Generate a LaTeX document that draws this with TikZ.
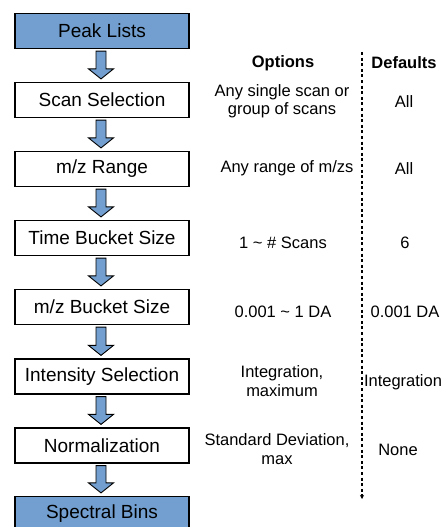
\documentclass[tikz,border=0pt]{standalone}
\usepackage{fontspec}
\setmainfont{Liberation Sans}
\usetikzlibrary{calc,arrows.meta}
\definecolor{stepblue}{HTML}{729FCF}
\tikzset{
  stepbox/.style={draw=black, line width=1.2pt, fill=white, minimum width=174pt,
    minimum height=35pt, inner sep=0pt, font=\fontsize{19}{22}\selectfont},
  endbox/.style={stepbox, fill=stepblue},
  flowarrow/.style={draw=black, line width=0.9pt, fill=stepblue, line join=miter},
  opt/.style={align=center, inner sep=0pt, font=\fontsize{16.5}{18.5}\selectfont},
  head/.style={opt, font=\fontsize{16.5}{18.5}\selectfont\bfseries},
}
\newcommand{\flowstep}[2]{%
  \path[flowarrow] ($(#1.south)+(-6,2)$) -- ($(#2.north)+(-6,-13)$)
    -- ($(#2.north)+(-13.5,-13)$) -- ($(#2.north)+(-1,-3)$)
    -- ($(#2.north)+(11.5,-13)$) -- ($(#2.north)+(4,-13)$)
    -- ($(#1.south)+(4,2)$) -- cycle;}
\begin{document}
\begin{tikzpicture}[x=1pt,y=-1pt]
\useasboundingbox (0,0) rectangle (444,527);
% processing chain
\node[endbox]  (peak)   at (102,31)  {Peak Lists};
\node[stepbox] (scan)   at (102,100) {Scan Selection};
\node[stepbox] (range)  at (102,169) {m/z Range};
\node[stepbox] (time)   at (102,238) {Time Bucket Size};
\node[stepbox] (mzb)    at (102,307) {m/z Bucket Size};
\node[stepbox] (inten)  at (102,376.5) {Intensity Selection};
\node[stepbox] (norm)   at (102,445.5) {Normalization};
\node[endbox]  (bins)   at (102,514) {Spectral Bins};
\flowstep{peak}{scan}
\flowstep{scan}{range}
\flowstep{range}{time}
\flowstep{time}{mzb}
\flowstep{mzb}{inten}
\flowstep{inten}{norm}
\flowstep{norm}{bins}
% column headings
\node[head] (hopt) at (283,63) {Options};
\node[head] (hdef) at (404,63) {Defaults};
% separator
\coordinate (dtop) at (362,52);
\coordinate (dbot) at (362,499);
\draw[line width=1.4pt, dash pattern=on 3pt off 2.6pt, -{Stealth[length=4pt,width=4pt]}] (dtop) -- (dbot);
% options and defaults per step
\node[opt] (o1) at (282,101) {Any single scan or\\group of scans};
\node[opt] (d1) at (404,102) {All};
\node[opt] (o2) at (287,168.5) {Any range of m/zs};
\node[opt] (d2) at (404,168.5) {All};
\node[opt] (o3) at (283,243) {1 \textasciitilde\ \# Scans};
\node[opt] (d3) at (405,243) {6};
\node[opt] (o4) at (283,312) {0.001 \textasciitilde\ 1 DA};
\node[opt] (d4) at (405,312) {0.001 DA};
\node[opt] (o5) at (282,381) {Integration,\\maximum};
\node[opt] (d5) at (403,382) {Integration};
\node[opt] (o6) at (277,449) {Standard Deviation,\\max};
\node[opt] (d6) at (398,450) {None};
\end{tikzpicture}
\end{document}
